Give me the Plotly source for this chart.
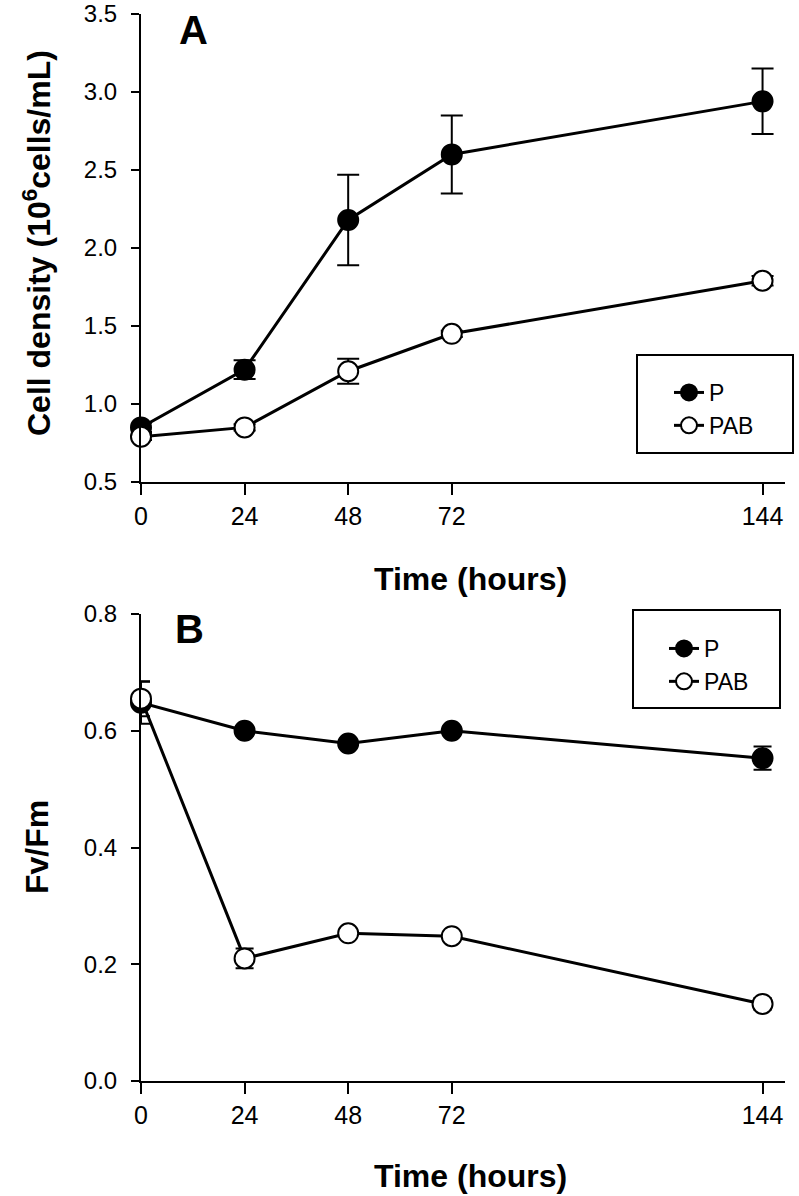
import plotly.graph_objects as go

time = [0, 24, 48, 72, 144]
tick_labels = ["0", "24", "48", "72", "144"]

# Panel A: cell density (10^6 cells/mL)
density_P = [0.85, 1.22, 2.18, 2.60, 2.94]
density_P_err = [0.03, 0.06, 0.29, 0.25, 0.21]
density_PAB = [0.79, 0.85, 1.21, 1.45, 1.79]
density_PAB_err = [0.02, 0.02, 0.08, 0.02, 0.03]

# Panel B: Fv/Fm
fvfm_P = [0.648, 0.600, 0.578, 0.600, 0.553]
fvfm_P_err = [0.036, 0.008, 0.008, 0.008, 0.020]
fvfm_PAB = [0.655, 0.210, 0.253, 0.248, 0.132]
fvfm_PAB_err = [0.030, 0.017, 0.008, 0.008, 0.010]

series_names = ["P", "PAB"]

fig = go.Figure()

def add_series(x, y, err, name, filled, xa, ya, legend, cap):
    fig.add_trace(go.Scatter(
        x=x, y=y, name=name, mode="lines+markers",
        xaxis=xa, yaxis=ya, legend=legend, legendgroup=name + legend,
        cliponaxis=False,
        line=dict(color="black", width=3),
        marker=dict(size=20, symbol="circle",
                    color="black" if filled else "white",
                    line=dict(color="black", width=2)),
        error_y=dict(type="data", array=err, visible=True,
                     color="black", thickness=2, width=cap),
    ))

add_series(time, density_P, density_P_err, series_names[0], True, "x", "y", "legend", 11)
add_series(time, density_PAB, density_PAB_err, series_names[1], False, "x", "y", "legend", 11)
add_series(time, fvfm_P, fvfm_P_err, series_names[0], True, "x2", "y2", "legend2", 9)
add_series(time, fvfm_PAB, fvfm_PAB_err, series_names[1], False, "x2", "y2", "legend2", 9)

# invisible companions so the label-carrying overlay axes get drawn
for yv, xa, ya in [(density_P, "x", "y3"), (fvfm_P, "x2", "y4")]:
    fig.add_trace(go.Scatter(x=time, y=yv, xaxis=xa, yaxis=ya, mode="markers",
                             marker=dict(opacity=0), showlegend=False, hoverinfo="skip"))

W, H = 799, 1196
ml, mr, mt, mb = 141, 14, 14, 115
ph = H - mt - mb
pw = W - ml - mr
top_dom = [(H - mb - 482) / ph, 1.0]
bot_dom = [0.0, (H - mb - 614) / ph]

FONT = "Liberation Sans, Arial, sans-serif"

density_range = [0.5, 3.5]
fvfm_range = [0, 0.8]

xaxis_common = dict(
    range=[0, 149.2], tickvals=time, ticktext=tick_labels,
    showline=True, linecolor="black", linewidth=2,
    ticks="outside", ticklen=11, tickwidth=2, tickcolor="black",
    showgrid=False, zeroline=False, automargin=False,
    tickfont=dict(family=FONT, size=25, color="black"),
)
# visible axis line + short ticks, no labels
yaxis_common = dict(
    showline=True, linecolor="black", linewidth=2,
    ticks="outside", ticklen=8, tickwidth=2, tickcolor="black",
    showgrid=False, zeroline=False, automargin=False,
    tickmode="linear", showticklabels=False,
)
# overlay axis carrying the tick labels, pushed further from the axis line
ylabel_common = dict(
    showline=False, side="left",
    ticks="outside", ticklen=18, tickwidth=1, tickcolor="rgba(0,0,0,0)",
    showgrid=False, zeroline=False, automargin=False,
    tickmode="linear", tickformat=".1f",
    tickfont=dict(family=FONT, size=24, color="black"),
)

def py(p):
    return (H - mb - p) / ph

def px(p):
    return (p - ml) / pw

def ann(text, x, y, size, angle=0):
    return dict(text=text, x=px(x), y=py(y), xref="paper", yref="paper",
                xanchor="center", yanchor="middle", textangle=angle,
                showarrow=False, font=dict(family=FONT, size=size, color="black"))

annotations = [
    ann("<b>A</b>", 193, 30, 40),
    ann("<b>B</b>", 189, 629, 40),
    ann("<b>Time (hours)</b>", 470, 579, 32),
    ann("<b>Time (hours)</b>", 470, 1176, 32),
    ann("<b>Cell density (10<sup>6</sup>cells/mL)</b>", 37, 243, 32, -90),
    ann("<b>Fv/Fm</b>", 37, 847, 32, -90),
]

shapes = [
    dict(type="rect", xref="paper", yref="paper",
         x0=px(637), x1=px(793), y0=py(453), y1=py(355),
         line=dict(color="black", width=2), fillcolor="rgba(0,0,0,0)"),
    dict(type="rect", xref="paper", yref="paper",
         x0=px(633), x1=px(780), y0=py(708), y1=py(610),
         line=dict(color="black", width=2), fillcolor="rgba(0,0,0,0)"),
]

legend_common = dict(
    bgcolor="rgba(0,0,0,0)", borderwidth=0, tracegroupgap=0,
    xanchor="left", yanchor="top", itemsizing="trace",
    font=dict(family=FONT, size=23, color="black"),
)

fig.update_layout(
    width=W, height=H,
    margin=dict(l=ml, r=mr, t=mt, b=mb),
    paper_bgcolor="white", plot_bgcolor="white",
    showlegend=True,
    xaxis=dict(domain=[0, 1], anchor="y", **xaxis_common),
    yaxis=dict(domain=top_dom, anchor="x", range=density_range, tick0=0.5, dtick=0.5, **yaxis_common),
    yaxis3=dict(overlaying="y", anchor="x", range=density_range, tick0=0.5, dtick=0.5, **ylabel_common),
    xaxis2=dict(domain=[0, 1], anchor="y2", **xaxis_common),
    yaxis2=dict(domain=bot_dom, anchor="x2", range=fvfm_range, tick0=0, dtick=0.2, **yaxis_common),
    yaxis4=dict(overlaying="y2", anchor="x2", range=fvfm_range, tick0=0, dtick=0.2, **ylabel_common),
    legend=dict(x=px(669), y=py(371), **legend_common),
    legend2=dict(x=px(664), y=py(627), **legend_common),
    annotations=annotations,
    shapes=shapes,
)

fig.write_html("out.html", config={"displayModeBar": False},
               post_script="document.body.style.margin='0';")
